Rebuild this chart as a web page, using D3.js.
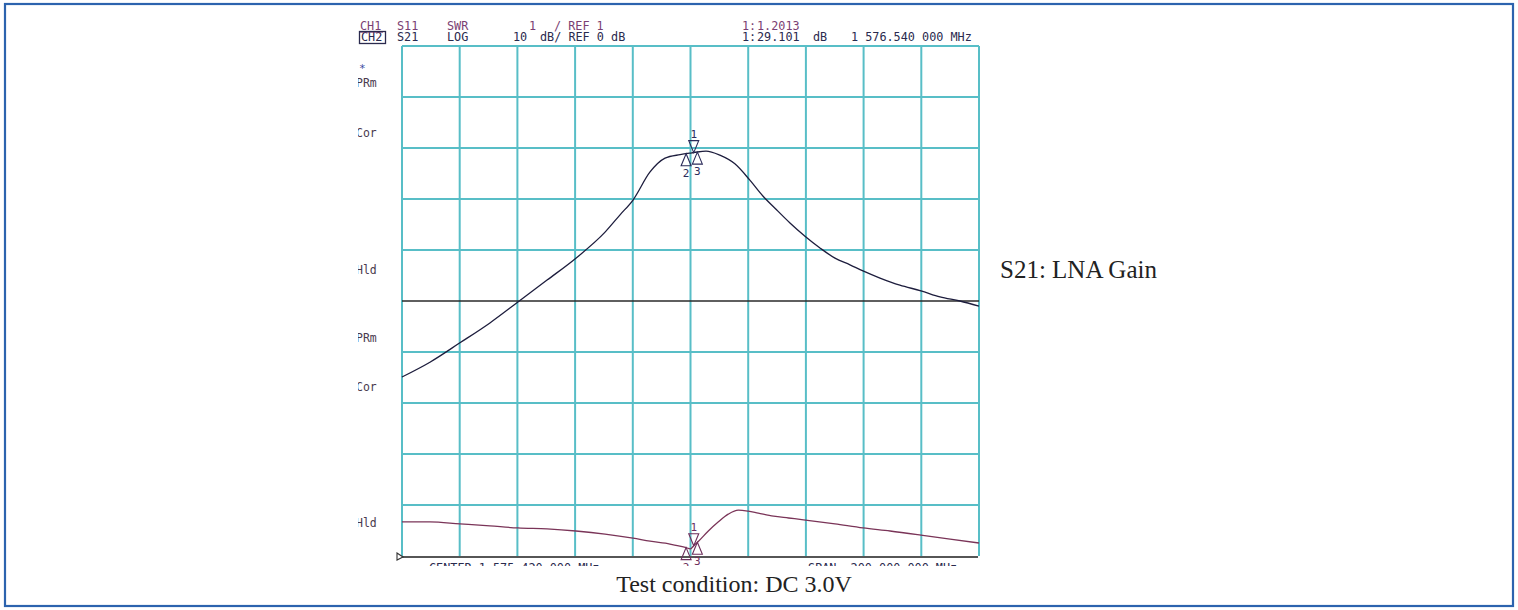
<!DOCTYPE html>
<html>
<head>
<meta charset="utf-8">
<script src="https://cdn.jsdelivr.net/npm/d3@7"></script>
<style>
  html, body { margin: 0; padding: 0; background: #ffffff; }
  svg { display: block; }
</style>
</head>
<body>
<svg id="chart" width="1518" height="610"></svg>
<script>
// ---------------- data ----------------
const centerMHz = 1575.42;
const spanMHz = 200;

// S21 (CH2, LOG 10 dB/div, REF 0 dB)
const s21Freq = [1475.4,1485.1,1495.5,1505.9,1515.6,1525.7,1535.7,1545.8,1551.0,1555.5,1561.4,1566.6,1571.8,1575.9,1576.54,1580.8,1585.6,1590.8,1596.0,1600.5,1604.7,1609.9,1615.1,1620.3,1625.5,1630.7,1635.2,1641.1,1648.0,1655.3,1661.9,1668.8,1675.4];
const s21dB   = [-14.9,-12.0,-8.2,-4.3,-0.2,4.1,8.4,13.5,16.9,19.8,25.3,28.0,28.7,29.05,29.10,29.4,28.6,26.9,23.7,20.6,18.2,15.3,12.7,10.4,8.4,7.1,5.9,4.5,3.1,2.0,0.8,0.0,-1.0];

// S11 (CH1, SWR 1/div, REF 1)
const s11Freq = [1475.4,1485.1,1495.5,1505.9,1515.6,1525.7,1535.7,1545.8,1555.5,1561.4,1568.3,1573.6,1575.4,1576.54,1578.2,1581.6,1585.1,1588.5,1592.0,1595.4,1598.9,1604.2,1609.4,1614.6,1625.5,1635.2,1644.6,1655.3,1665.4,1675.4];
const s11SWR  = [1.67,1.67,1.63,1.59,1.55,1.53,1.49,1.43,1.35,1.29,1.235,1.17,1.14,1.2013,1.29,1.49,1.67,1.82,1.90,1.88,1.84,1.78,1.745,1.71,1.63,1.55,1.49,1.41,1.33,1.255];

// markers
const markerFreq  = [1576.54, 1573.9, 1577.8];
const markerLabel = ["1", "2", "3"];

// grid ticks
const dbTicks = d3.range(-50, 51, 10);
const freqTicks = d3.range(0, 11).map(i => centerMHz - spanMHz / 2 + i * spanMHz / 10);

// instrument texts
const headerCH1 = [["CH1",360],["S11",397],["SWR",447],["1",529],["/ REF 1",554],["1:",742],["1.2013",757]];
const headerCH2 = [["CH2",361],["S21",397],["LOG",447],["10",513],["dB/ REF 0 dB",540],["1:",742],["29.101",757],["dB",813],["1 576.540 000 MHz",851]];
const sideLabels = [["PRm",87],["Cor",137],["Hld",274],["PRm",342],["Cor",391],["Hld",527]];
const bottomTexts = [["CENTER 1 575.420 000 MHz",429],["SPAN  200.000 000 MHz",808]];

// ---------------- drawing ----------------
const svg = d3.select("#chart");
const L = 402, R = 979, T = 46, B = 556;

const x = d3.scaleLinear().domain([centerMHz - spanMHz/2, centerMHz + spanMHz/2]).range([L, R]);
const yDB = d3.scaleLinear().domain([-50, 50]).range([B, T]);
const ySWR = d3.scaleLinear().domain([1, 11]).range([B, T]);

// outer frame
svg.append("rect").attr("x", 5).attr("y", 4).attr("width", 1508).attr("height", 602)
  .attr("fill", "#ffffff").attr("stroke", "#2c63ae").attr("stroke-width", 2.2);

// clip for the instrument screenshot
const defs = svg.append("defs");
defs.append("clipPath").attr("id", "scr").append("rect")
  .attr("x", 358).attr("y", 16).attr("width", 630).attr("height", 550);

const scr = svg.append("g").attr("clip-path", "url(#scr)");

// grid
const gGrid = scr.append("g");
gGrid.selectAll("line.v").data(freqTicks).join("line")
  .attr("x1", d => x(d)).attr("x2", d => x(d)).attr("y1", T).attr("y2", B)
  .attr("stroke", "#58bec7").attr("stroke-width", 2);
gGrid.selectAll("line.h").data(dbTicks.filter(d => d !== -50 && d !== 0)).join("line")
  .attr("x1", L).attr("x2", R).attr("y1", d => yDB(d)).attr("y2", d => yDB(d))
  .attr("stroke", "#58bec7").attr("stroke-width", 2);

// reference line (0 dB) and bottom axis
scr.append("line").attr("x1", L).attr("x2", R).attr("y1", yDB(0)).attr("y2", yDB(0))
  .attr("stroke", "#2a2a2a").attr("stroke-width", 1.4);
scr.append("line").attr("x1", 397).attr("x2", R - 1).attr("y1", B + 1).attr("y2", B + 1)
  .attr("stroke", "#1e1e1e").attr("stroke-width", 1.6);
// CH1 reference position marker
scr.append("path").attr("d", `M${L-5},${B-3} L${L+1},${B+1} L${L-5},${B+4} Z`)
  .attr("fill", "#ffffff").attr("stroke", "#333").attr("stroke-width", 1.1);

// traces
const lineDB = d3.line().curve(d3.curveMonotoneX).x((d, i) => x(s21Freq[i])).y(d => yDB(d));
const lineSWR = d3.line().curve(d3.curveMonotoneX).x((d, i) => x(s11Freq[i])).y(d => ySWR(d));
scr.append("path").datum(s21dB).attr("d", lineDB)
  .attr("fill", "none").attr("stroke", "#1d1d3d").attr("stroke-width", 1.3);
scr.append("path").datum(s11SWR).attr("d", lineSWR)
  .attr("fill", "none").attr("stroke", "#7a3458").attr("stroke-width", 1.3);

// interpolation helper
function interp(fs, vs, f) {
  const i = Math.max(1, Math.min(fs.length - 1, d3.bisectLeft(fs, f)));
  const t = (f - fs[i-1]) / (fs[i] - fs[i-1]);
  return vs[i-1] + t * (vs[i] - vs[i-1]);
}

function drawMarkers(fs, vs, yScale, color) {
  const g = scr.append("g");
  markerFreq.forEach((f, k) => {
    const px = x(f), py = yScale(interp(fs, vs, f));
    if (k === 0) {
      g.append("path").attr("d", `M${px},${py} L${px-5},${py-12} L${px+5},${py-12} Z`)
        .attr("fill", "none").attr("stroke", color).attr("stroke-width", 1.1);
      g.append("text").attr("x", px).attr("y", py - 15).attr("text-anchor", "middle")
        .attr("font-family", "DejaVu Sans Mono, monospace").attr("font-size", 11)
        .attr("fill", color).text(markerLabel[k]);
    } else {
      g.append("path").attr("d", `M${px},${py} L${px-5},${py+12} L${px+5},${py+12} Z`)
        .attr("fill", "none").attr("stroke", color).attr("stroke-width", 1.1);
      g.append("text").attr("x", px).attr("y", py + 23).attr("text-anchor", "middle")
        .attr("font-family", "DejaVu Sans Mono, monospace").attr("font-size", 11)
        .attr("fill", color).text(markerLabel[k]);
    }
  });
}
drawMarkers(s21Freq, s21dB, yDB, "#2b2b5a");
drawMarkers(s11Freq, s11SWR, ySWR, "#6d2f5c");

// header texts
const mono = "DejaVu Sans Mono, Liberation Mono, monospace";
scr.selectAll("text.h1").data(headerCH1).join("text")
  .attr("x", d => d[1]).attr("y", 30).attr("font-family", mono).attr("font-size", 11.8)
  .attr("fill", "#7b3f73").attr("xml:space", "preserve").text(d => d[0]);
scr.selectAll("text.h2").data(headerCH2).join("text")
  .attr("x", d => d[1]).attr("y", 41).attr("font-family", mono).attr("font-size", 11.8)
  .attr("fill", "#2a2a4e").attr("xml:space", "preserve").text(d => d[0]);
// CH1 underline & CH2 box
scr.append("line").attr("x1", 360).attr("x2", 383).attr("y1", 32).attr("y2", 32)
  .attr("stroke", "#7b3f73").attr("stroke-width", 1.2);
scr.append("rect").attr("x", 359.5).attr("y", 31.5).attr("width", 26).attr("height", 12)
  .attr("fill", "none").attr("stroke", "#2a2a4e").attr("stroke-width", 1.3);

// side labels
scr.append("text").attr("x", 359).attr("y", 72).attr("font-family", mono).attr("font-size", 11)
  .attr("fill", "#3a4aa0").text("*");
scr.selectAll("text.side").data(sideLabels).join("text")
  .attr("x", 356).attr("y", d => d[1]).attr("font-family", mono).attr("font-size", 11.5)
  .attr("fill", "#4a3a4e").text(d => d[0]);

// bottom texts (cut by the screenshot edge)
scr.selectAll("text.bot").data(bottomTexts).join("text")
  .attr("x", d => d[1]).attr("y", 572).attr("font-family", mono).attr("font-size", 11.8)
  .attr("fill", "#2a2a4e").attr("xml:space", "preserve").text(d => d[0]);

// captions
svg.append("text").attr("x", 1000).attr("y", 278)
  .attr("font-family", "Liberation Serif, Times New Roman, serif").attr("font-size", 25)
  .attr("fill", "#222").text("S21: LNA Gain");
svg.append("text").attr("x", 734).attr("y", 592).attr("text-anchor", "middle")
  .attr("font-family", "Liberation Serif, Times New Roman, serif").attr("font-size", 24)
  .attr("fill", "#222").text("Test condition: DC 3.0V");
</script>
</body>
</html>
